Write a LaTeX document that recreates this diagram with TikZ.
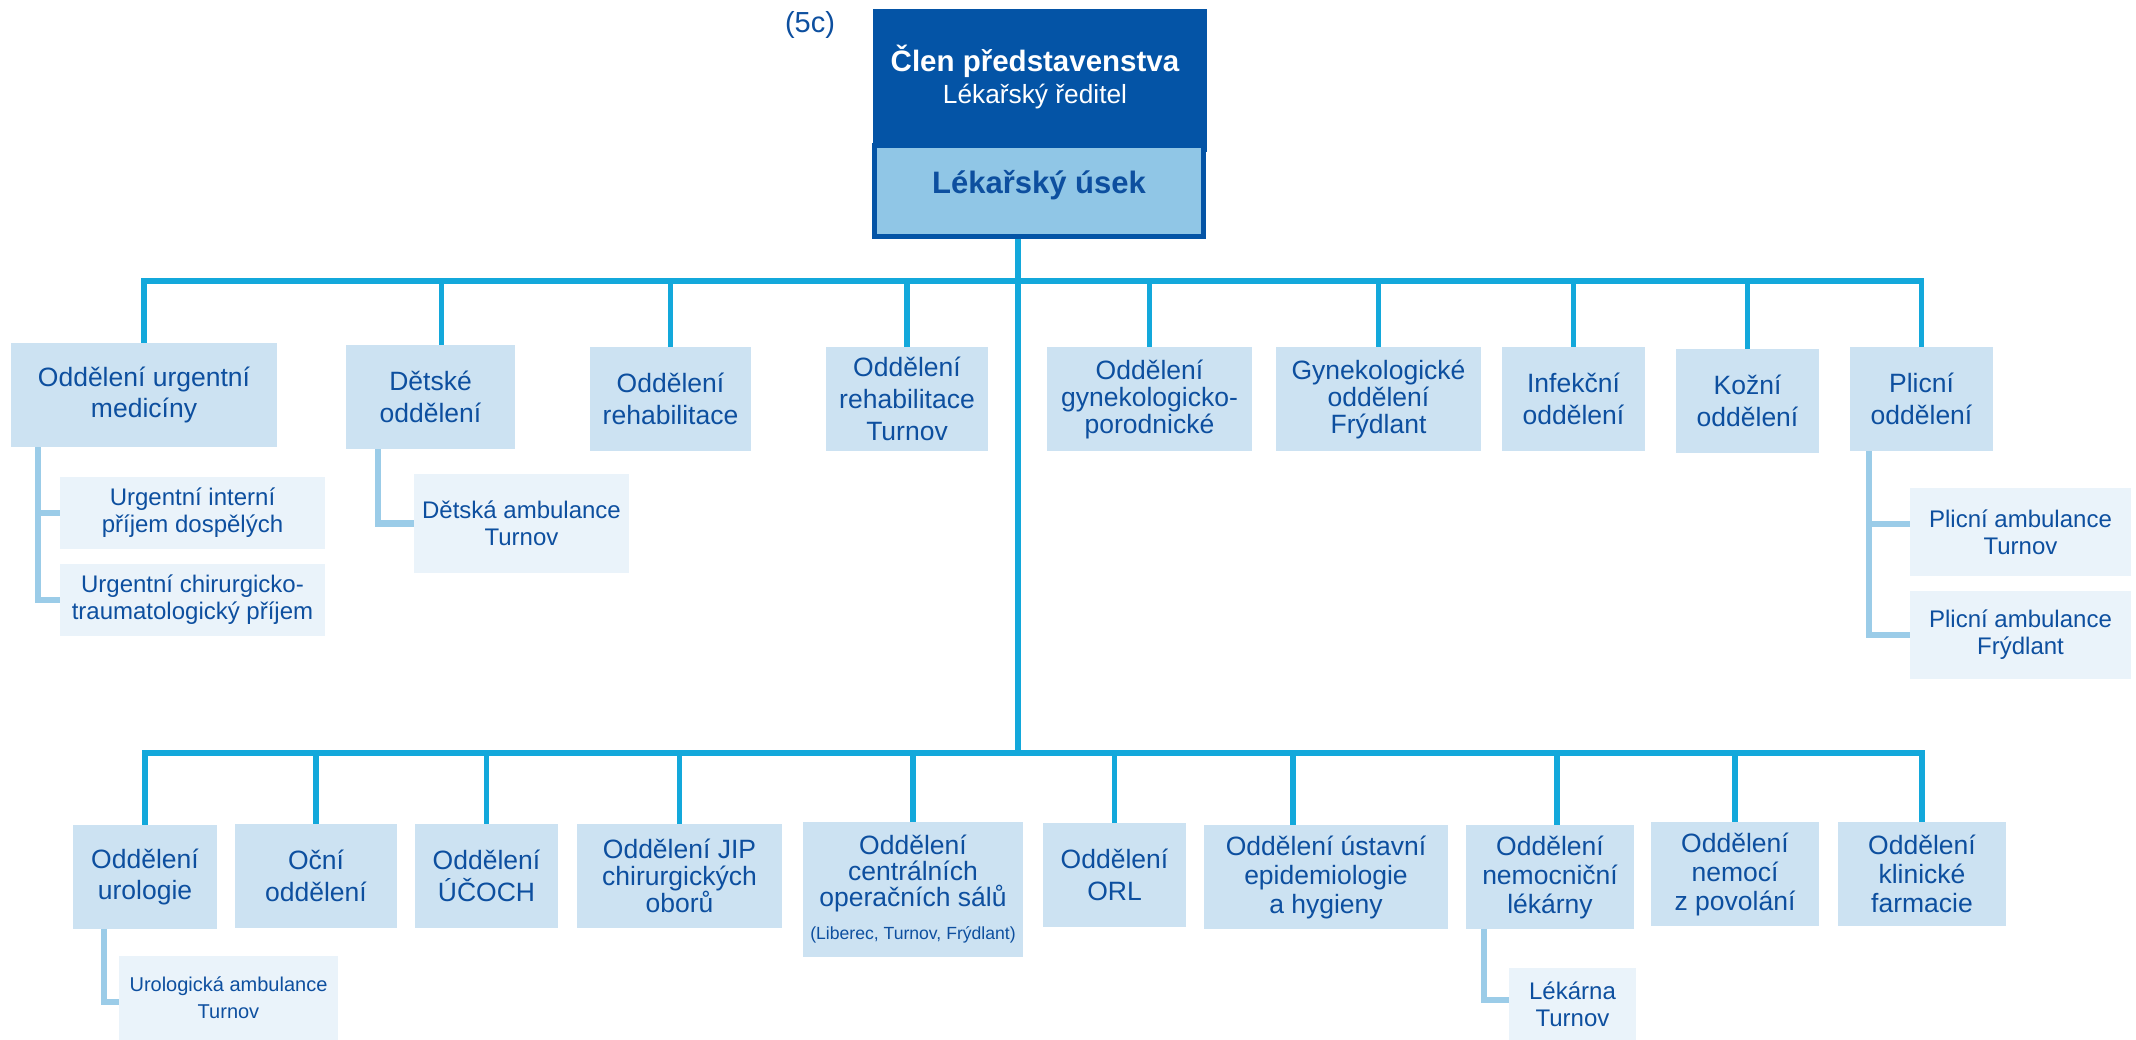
\documentclass[tikz,border=0pt]{standalone}
\usepackage{fontspec}
\setmainfont{Liberation Sans}
\usetikzlibrary{calc,backgrounds}
\definecolor{darkblue}{HTML}{0454A6}
\definecolor{textblue}{HTML}{0D4F9F}
\definecolor{deptfill}{HTML}{CCE2F2}
\definecolor{subfill}{HTML}{EAF3FA}
\definecolor{usekfill}{HTML}{90C6E6}
\definecolor{busblue}{HTML}{13A8DB}
\definecolor{subblue}{HTML}{9BCCE8}
\begin{document}
\begin{tikzpicture}[x=1pt,y=-1pt,
  dept/.style={rectangle, fill=deptfill, inner sep=0pt, outer sep=0pt, text=textblue, align=center, font=\fontsize{26.5}{31.7}\selectfont},
  deptt/.style={dept, font=\fontsize{26.5}{27}\selectfont},
  deptm/.style={dept, font=\fontsize{26.5}{29}\selectfont},
  subbox/.style={rectangle, fill=subfill, inner sep=0pt, outer sep=0pt, text=textblue, align=center, font=\fontsize{24}{26.7}\selectfont},
  bus/.style={draw=busblue, line width=5.5pt, line join=miter},
  subline/.style={draw=subblue, line width=6.5pt, line join=miter},
  lbl/.style={inner sep=0pt, outer sep=0pt, anchor=base}]
\useasboundingbox (0,0) rectangle (2136,1040);

% top
\node[lbl, text=textblue, font=\fontsize{29}{33}\selectfont] (code) at (810,33) {(5c)};
\node[rectangle, fill=darkblue, inner sep=0pt, outer sep=0pt, minimum width=334, minimum height=143] (dir) at (1040,80.5) {};
\node[lbl, text=white, font=\fontsize{29.5}{33}\selectfont\bfseries] (dirtitle) at (1035,72) {Člen představenstva};
\node[lbl, text=white, font=\fontsize{26.3}{30}\selectfont] (dirsub) at (1035,104) {Lékařský ředitel};
\node[rectangle, fill=usekfill, draw=darkblue, line width=5pt, inner sep=0pt, outer sep=0pt, minimum width=329, minimum height=91] (usek) at (1039,191) {};
\node[lbl, text=textblue, font=\fontsize{31}{34}\selectfont\bfseries] (usektext) at (1039,194) {Lékařský úsek};

\coordinate (ujunc) at (1018,281);
\coordinate (ljunc) at (1018,753);

% upper departments
\node[dept, minimum width=266, minimum height=104] (U1) at (144,395) {Oddělení urgentní\\medicíny};
\node[dept, minimum width=169, minimum height=104] (U2) at (430.5,397) {Dětské\\oddělení};
\node[dept, minimum width=161, minimum height=104] (U3) at (670.5,399) {Oddělení\\rehabilitace};
\node[dept, minimum width=162, minimum height=104] (U4) at (907,399) {Oddělení\\rehabilitace\\Turnov};
\node[deptt, minimum width=205, minimum height=104] (U5) at (1149.5,399) {Oddělení\\gynekologicko-\\porodnické};
\node[deptt, minimum width=205, minimum height=104] (U6) at (1378.5,399) {Gynekologické\\oddělení\\Frýdlant};
\node[dept, minimum width=143, minimum height=104] (U7) at (1573.5,399) {Infekční\\oddělení};
\node[dept, minimum width=143, minimum height=104] (U8) at (1747.5,401) {Kožní\\oddělení};
\node[dept, minimum width=143, minimum height=104] (U9) at (1921.5,399) {Plicní\\oddělení};

% upper sub units
\node[subbox, minimum width=265, minimum height=72] (S1) at (192.5,513) {Urgentní interní\\příjem dospělých};
\node[subbox, minimum width=265, minimum height=72] (S2) at (192.5,600) {Urgentní chirurgicko-\\traumatologický příjem};
\node[subbox, minimum width=215, minimum height=99] (S3) at (521.5,523.5) {Dětská ambulance\\Turnov};
\node[subbox, minimum width=221, minimum height=88] (S4) at (2020.5,532) {Plicní ambulance\\Turnov};
\node[subbox, minimum width=221, minimum height=88] (S5) at (2020.5,635) {Plicní ambulance\\Frýdlant};

% lower departments
\node[dept, minimum width=144, minimum height=104] (L1) at (145,877) {Oddělení\\urologie};
\node[dept, minimum width=162, minimum height=104] (L2) at (316,876) {Oční\\oddělení};
\node[dept, minimum width=143, minimum height=104] (L3) at (486.5,876) {Oddělení\\ÚČOCH};
\node[deptt, minimum width=205, minimum height=104] (L4) at (679.5,876) {Oddělení JIP\\chirurgických\\oborů};
\node[dept, font=\fontsize{26.5}{26}\selectfont, minimum width=220, minimum height=135] (L5) at (913,889.5) {Oddělení\\centrálních\\operačních sálů\\[7pt]{\fontsize{17.6}{20}\selectfont (Liberec, Turnov, Frýdlant)}};
\node[dept, minimum width=143, minimum height=104] (L6) at (1114.5,875) {Oddělení\\ORL};
\node[deptm, minimum width=244, minimum height=104] (L7) at (1326,877) {Oddělení ústavní\\epidemiologie\\a hygieny};
\node[deptm, minimum width=168, minimum height=104] (L8) at (1550,877) {Oddělení\\nemocniční\\lékárny};
\node[deptm, minimum width=168, minimum height=104] (L9) at (1735,874) {Oddělení\\nemocí\\z povolání};
\node[deptm, minimum width=168, minimum height=104] (L10) at (1922,874) {Oddělení\\klinické\\farmacie};

% lower sub units
\node[subbox, font=\fontsize{20}{26.7}\selectfont, minimum width=219, minimum height=84] (S6) at (228.5,998) {Urologická ambulance\\Turnov};
\node[subbox, minimum width=127, minimum height=72] (S7) at (1572.5,1004) {Lékárna\\Turnov};

\begin{scope}[on background layer]
  % trunk
  \draw[bus] ($(usek.south)+(-21,0)$) -- (ljunc);
  % upper bus
  \draw[bus] (U1.north) |- (U9.north |- ujunc) -- (U9.north);
  \draw[bus] ($(U2.north)+(11,0)$) -- ($(U2.north |- ujunc)+(11,0)$);
  \foreach \n in {U3,U4,U5,U6,U7,U8}{
    \draw[bus] (\n.north) -- (\n.north |- ujunc);
  }
  % lower bus
  \draw[bus] (L1.north) |- (L10.north |- ljunc) -- (L10.north);
  \foreach \n in {L2,L3,L4,L5,L6,L9}{
    \draw[bus] (\n.north) -- (\n.north |- ljunc);
  }
  \draw[bus] ($(L7.north)+(-33,0)$) -- ($(L7.north |- ljunc)+(-33,0)$);
  \draw[bus] ($(L8.north)+(7,0)$) -- ($(L8.north |- ljunc)+(7,0)$);
  % sub connectors
  \draw[subline] ($(U1.south west)+(27,0)$) |- (S2.west);
  \draw[subline] ($(U1.south west)+(27,0)$) |- (S1.west);
  \draw[subline] ($(U2.south west)+(32,0)$) |- (S3.west);
  \draw[subline] ($(U9.south west)+(19,0)$) |- (S5.west);
  \draw[subline] ($(U9.south west)+(19,0)$) |- ($(S4.west)+(0,-8)$);
  \draw[subline] ($(L1.south west)+(31,0)$) |- ($(S6.west)+(0,4)$);
  \draw[subline] ($(L8.south west)+(18,0)$) |- ($(S7.west)+(0,-4)$);
\end{scope}
\end{tikzpicture}
\end{document}
